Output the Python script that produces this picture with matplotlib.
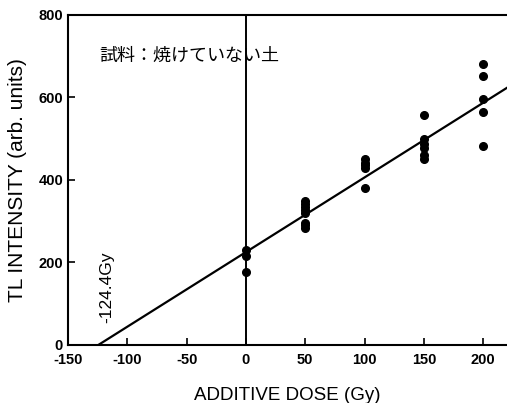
import numpy as np
import matplotlib
matplotlib.use("Agg")
import matplotlib.pyplot as plt

# -------------------------
# DATA
# -------------------------
dose_0 = [0, 0, 0]
tl_0 = [231, 215, 178]
dose_50 = [50] * 8
tl_50 = [350, 342, 335, 328, 320, 296, 290, 284]
dose_100 = [100] * 5
tl_100 = [450, 442, 436, 429, 380]
dose_150 = [150] * 6
tl_150 = [558, 500, 488, 478, 460, 451]
dose_200 = [200] * 5
tl_200 = [681, 652, 596, 565, 482]

intercept_dose = -124.4
fit_end_dose = 220
fit_slope = 1.81

xticks = [-150, -100, -50, 0, 50, 100, 150, 200]
yticks = [0, 200, 400, 600, 800]

# -------------------------
# PLOT
# -------------------------
plt.rcParams['font.family'] = ['Liberation Sans', 'DejaVu Sans']
plt.rcParams['axes.unicode_minus'] = False

fig = plt.figure(figsize=(5.07, 4.03), dpi=100)
ax = fig.add_axes([0.134, 0.144, 0.866, 0.819])

xs = [intercept_dose, fit_end_dose]
ys = [0, fit_slope * (fit_end_dose - intercept_dose)]
ax.plot(xs, ys, color='black', lw=1.6)
ax.axvline(0, color='black', lw=1.4)

for d, t in [(dose_0, tl_0), (dose_50, tl_50), (dose_100, tl_100),
             (dose_150, tl_150), (dose_200, tl_200)]:
    ax.plot(d, t, 'o', color='black', ms=5.5)

ax.set_xlim(-150, 220)
ax.set_ylim(0, 800)
ax.set_xticks(xticks)
ax.set_yticks(yticks)
ax.tick_params(direction='in', length=5, width=1.2, labelsize=10.5)
ax.tick_params(axis='x', pad=6)
for lab in ax.get_xticklabels() + ax.get_yticklabels():
    lab.set_fontweight('bold')
ax.spines['right'].set_visible(False)
for s in ['left', 'bottom', 'top']:
    ax.spines[s].set_linewidth(1.5)

ax.set_xlabel("ADDITIVE DOSE (Gy)", fontsize=13.5, labelpad=14)
ax.set_ylabel("TL INTENSITY (arb. units)", fontsize=15, labelpad=8)

ax.text(-117, 140, "-124.4Gy", rotation=90, fontsize=12.5, ha='center', va='center')
ax.text(-124, 700, "試料：焼けていない土", fontsize=13,
        family=['Noto Sans CJK JP', 'DejaVu Sans'], va='center', ha='left')

fig.savefig("out.png", dpi=100)
